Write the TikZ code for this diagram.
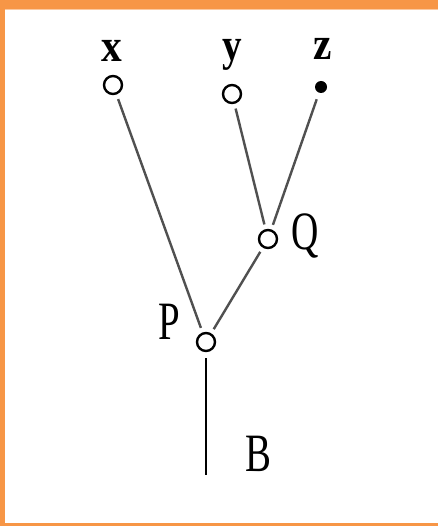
\documentclass[tikz,border=0pt]{standalone}
\usepackage{fontspec}
\setmainfont{Liberation Serif}
\definecolor{frameorange}{HTML}{F79646}
\definecolor{framelight}{HTML}{FBC9A0}
\definecolor{branch}{HTML}{505050}
\begin{document}
\begin{tikzpicture}[x=1pt,y=-1pt,
  vertex/.style={circle,draw=black,line width=2.4pt,fill=white,minimum size=18pt,inner sep=0pt,outer sep=2pt},
  tip/.style={circle,fill=black,minimum size=12pt,inner sep=0pt,outer sep=3pt},
  branchline/.style={draw=branch,line width=2.4pt,shorten >=4pt,shorten <=4pt},
  stem/.style={draw=black,line width=2.2pt},
  smalllabel/.style={inner sep=0pt,font=\fontsize{46}{46}\selectfont\bfseries},
  biglabel/.style={inner sep=0pt,font=\fontsize{54}{54}\selectfont}]
  % page and frame: orange on the top, left and bottom edges only
  \useasboundingbox (0,0) rectangle (438,526);
  \fill[white] (0,0) rectangle (438,526);
  \fill[frameorange] (0,0) rectangle (438,9);
  \fill[framelight] (5,9) rectangle (438,10);
  \fill[frameorange] (0,0) rectangle (5,526);
  \fill[frameorange] (0,523) rectangle (438,526);
  % vertices of the tree
  \node[vertex] (x) at (113,85) {};
  \node[vertex] (y) at (232,94) {};
  \node[tip]    (z) at (321,87) {};
  \node[vertex] (q) at (268,239) {};
  \node[vertex] (p) at (206,342) {};
  \coordinate (root) at (206,475);
  % branches
  \draw[branchline] (x) -- (p);
  \draw[branchline] (y) -- (q);
  \draw[branchline] (z) -- (q);
  \draw[branchline] (q) -- (p);
  \draw[stem] (206,358) -- (root);
  % labels
  \node[smalllabel] (lx) at (112,51) {\scalebox{0.9}[1]{x}};
  \node[smalllabel,anchor=base] (ly) at (232,61) {\scalebox{0.85}[1]{y}};
  \node[smalllabel] (lz) at (323,49) {\scalebox{0.9}[1]{z}};
  \node[biglabel] (lq) at (305,236) {\scalebox{0.7}[1]{Q}};
  \node[biglabel] (lp) at (169,322) {\scalebox{0.72}[1]{P}};
  \node[biglabel] (lb) at (258,454) {\scalebox{0.72}[1]{B}};
\end{tikzpicture}
\end{document}
